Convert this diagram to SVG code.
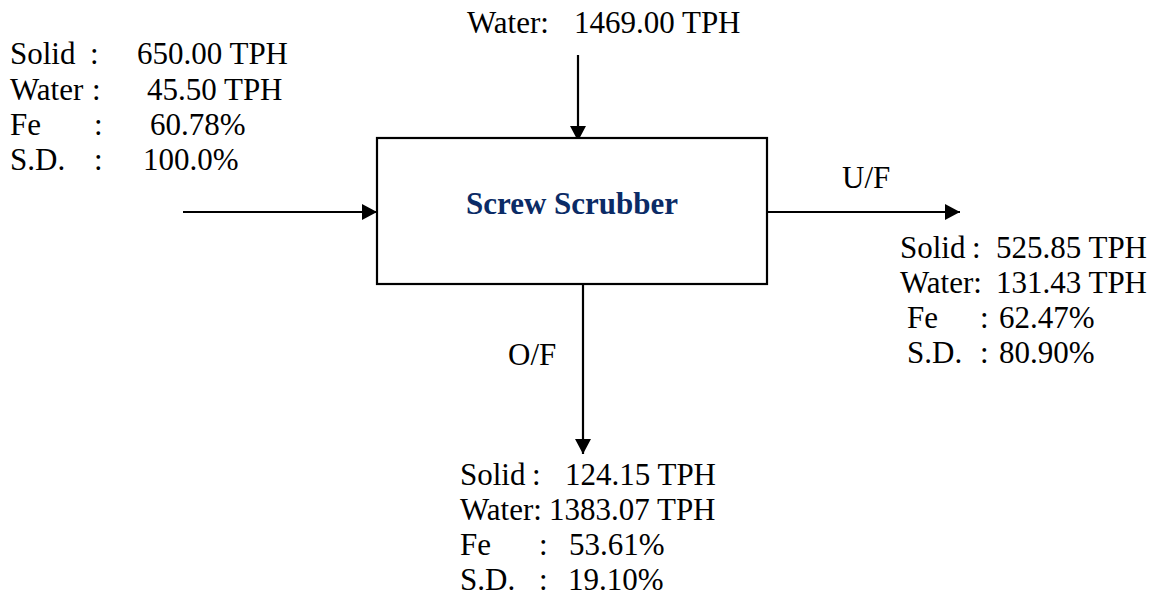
<svg xmlns="http://www.w3.org/2000/svg" width="1159" height="599" viewBox="0 0 1159 599">
<style>
  text { font-family: 'Liberation Serif', 'Times New Roman', serif; font-size: 31px; fill: #000; }
  .title { font-weight: bold; fill: #0b2b66; }
  .conn { stroke: #000; stroke-width: 2.2; fill: none; }
</style>
<defs>
  <marker id="ah" markerUnits="userSpaceOnUse" markerWidth="16" markerHeight="16" refX="15" refY="8" orient="auto">
    <path d="M0,0 L15,8 L0,16 Z" fill="#000"/>
  </marker>
</defs>
<rect width="1159" height="599" fill="#fff"/>
<g id="connectors">
  <line class="conn" x1="578" y1="55" x2="578" y2="141" marker-end="url(#ah)"/>
  <line class="conn" x1="183" y1="212" x2="377" y2="212" marker-end="url(#ah)"/>
  <line class="conn" x1="767" y1="212" x2="960" y2="212" marker-end="url(#ah)"/>
  <line class="conn" x1="583" y1="284" x2="583" y2="454" marker-end="url(#ah)"/>
</g>
<g id="screw-scrubber">
  <rect x="377" y="138" width="390" height="146" fill="#fff" stroke="#000" stroke-width="2.2"/>
  <text class="title" x="572" y="214" text-anchor="middle">Screw Scrubber</text>
</g>
<g id="feed">
  <text y="64"><tspan x="10">Solid</tspan><tspan x="90">:</tspan><tspan x="137">650.00 TPH</tspan></text>
  <text y="100"><tspan x="10">Water</tspan><tspan x="92">:</tspan><tspan x="147">45.50 TPH</tspan></text>
  <text y="135"><tspan x="10">Fe</tspan><tspan x="94">:</tspan><tspan x="150">60.78%</tspan></text>
  <text y="170"><tspan x="10">S.D.</tspan><tspan x="94">:</tspan><tspan x="143">100.0%</tspan></text>
</g>
<g id="water-in">
  <text y="33"><tspan x="467">Water:</tspan><tspan x="574">1469.00 TPH</tspan></text>
</g>
<g id="underflow">
  <text x="842" y="188">U/F</text>
  <text y="258"><tspan x="900">Solid</tspan><tspan x="972">:</tspan><tspan x="996">525.85 TPH</tspan></text>
  <text y="293"><tspan x="900">Water:</tspan><tspan x="996">131.43 TPH</tspan></text>
  <text y="328"><tspan x="907">Fe</tspan><tspan x="980">:</tspan><tspan x="999">62.47%</tspan></text>
  <text y="363"><tspan x="907">S.D.</tspan><tspan x="980">:</tspan><tspan x="999">80.90%</tspan></text>
</g>
<g id="overflow">
  <text x="508" y="365">O/F</text>
  <text y="485"><tspan x="460">Solid</tspan><tspan x="532">:</tspan><tspan x="565">124.15 TPH</tspan></text>
  <text y="520"><tspan x="460">Water:</tspan><tspan x="549">1383.07 TPH</tspan></text>
  <text y="555"><tspan x="460">Fe</tspan><tspan x="539">:</tspan><tspan x="569">53.61%</tspan></text>
  <text y="590"><tspan x="460">S.D.</tspan><tspan x="539">:</tspan><tspan x="568">19.10%</tspan></text>
</g>
</svg>
